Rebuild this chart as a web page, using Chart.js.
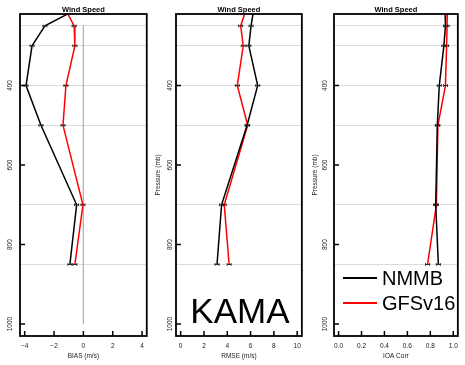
<!DOCTYPE html>
<html>
<head>
<meta charset="utf-8">
<script src="https://cdn.jsdelivr.net/npm/chart.js@4.4.1/dist/chart.umd.min.js"></script>
<style>
  html, body { margin: 0; padding: 0; background: #fff; }
  body { width: 465px; height: 365px; position: relative; overflow: hidden; }
  canvas { position: absolute; top: 0; }
</style>
</head>
<body>
<canvas id="bias"></canvas>
<canvas id="rmse"></canvas>
<canvas id="ioa"></canvas>
<script>
// niveles de presion (mb) de cada punto de los perfiles
const niveles = [200, 250, 300, 400, 500, 700, 850];
const nivelesGrid = [250, 300, 400, 500, 700, 850];
const presionTicks = [400, 600, 800, 1000];

const biasNMMB = [-0.05, -2.62, -3.5, -3.91, -2.89, -0.46, -0.92];
const biasGFS  = [-1.34, -0.63, -0.58, -1.19, -1.39, -0.03, -0.58];
const rmseNMMB = [6.32, 6.04, 5.85, 6.61, 5.7, 3.51, 3.12];
const rmseGFS  = [5.71, 5.15, 5.37, 4.86, 5.75, 3.74, 4.16];
const ioaNMMB  = [0.927, 0.932, 0.918, 0.878, 0.861, 0.847, 0.87];
const ioaGFS   = [0.95, 0.946, 0.942, 0.932, 0.866, 0.853, 0.776];

const biasTicks = [-4, -2, 0, 2, 4];
const rmseTicks = [0, 2, 4, 6, 8, 10];
const ioaTicks  = [0, 0.2, 0.4, 0.6, 0.8, 1];

const modelos = ['NMMB', 'GFSv16'];
const colores = ['#000000', '#ff0000'];
const estacion = 'KAMA';

const FUENTE = 'Liberation Sans, Arial, Helvetica, sans-serif';

const paneles = [
    { id: 'bias', izq: 20, der: 147, ancho: 20, xmin: -4.32, xmax: 4.32, ticks: biasTicks,
      fmt: v => (v < 0 ? '\u2212' + Math.abs(v) : String(v)), titulo: 'BIAS (m/s)',
      series: [biasNMMB, biasGFS], cero: true, labelX: 10.5, tituloY: null },
    { id: 'rmse', izq: 176, der: 304, ancho: 30, xmin: -0.4, xmax: 10.4, ticks: rmseTicks,
      fmt: v => String(v), titulo: 'RMSE (m/s)',
      series: [rmseNMMB, rmseGFS], texto: estacion, labelX: 170.5, tituloY: 8.6 },
    { id: 'ioa', izq: 334, der: 461, ancho: 30, xmin: -0.04, xmax: 1.04, ticks: ioaTicks,
      fmt: v => v.toFixed(1), titulo: 'IOA Corr',
      series: [ioaNMMB, ioaGFS], leyenda: true, labelX: 325.5, tituloY: 7.1 }
];

// marco, ticks hacia adentro, etiquetas de presion, marcas de cada nivel y textos extra
const marco = {
    id: 'marco',
    afterDraw(chart) {
        const p = chart.options.panel;
        const ctx = chart.ctx;
        const a = chart.chartArea;
        const sx = chart.scales.x, sy = chart.scales.y;
        const offset = p.izq - p.ancho;
        ctx.save();

        // marcas tipo barra de error en cada punto
        ctx.strokeStyle = '#222';
        ctx.lineWidth = 1;
        chart.data.datasets.forEach((ds, i) => {
            if (!ds.marcas) return;
            chart.getDatasetMeta(i).data.forEach(pt => {
                if (pt.y < a.top || pt.y > a.bottom) return;
                ctx.beginPath();
                ctx.moveTo(pt.x - 2, pt.y); ctx.lineTo(pt.x + 2, pt.y);
                ctx.moveTo(pt.x - 2, pt.y - 1.3); ctx.lineTo(pt.x - 2, pt.y + 1.3);
                ctx.moveTo(pt.x + 2, pt.y - 1.3); ctx.lineTo(pt.x + 2, pt.y + 1.3);
                ctx.stroke();
            });
        });

        ctx.strokeStyle = '#000';
        ctx.lineWidth = 1.8;
        ctx.strokeRect(a.left, a.top, a.right - a.left, a.bottom - a.top);

        ctx.lineWidth = 1.5;
        ctx.beginPath();
        p.ticks.forEach(v => {
            const x = sx.getPixelForValue(v);
            ctx.moveTo(x, a.bottom); ctx.lineTo(x, a.bottom - 5);
        });
        presionTicks.forEach(v => {
            const y = sy.getPixelForValue(v);
            ctx.moveTo(a.left, y); ctx.lineTo(a.left + 5, y);
        });
        ctx.stroke();

        ctx.fillStyle = '#222';
        ctx.font = '6.5px ' + FUENTE;
        ctx.textAlign = 'center';
        ctx.textBaseline = 'middle';
        presionTicks.forEach(v => {
            ctx.save();
            ctx.translate(p.labelX - offset, sy.getPixelForValue(v));
            ctx.rotate(-Math.PI / 2);
            ctx.fillText(String(v), 0, 0);
            ctx.restore();
        });

        if (p.texto) {
            ctx.fillStyle = '#000';
            ctx.font = '35px ' + FUENTE;
            ctx.textBaseline = 'alphabetic';
            ctx.fillText(p.texto, (a.left + a.right) / 2 + 1, a.bottom - 13);
        }

        if (p.leyenda) {
            ctx.font = '20px ' + FUENTE;
            ctx.textAlign = 'left';
            ctx.textBaseline = 'middle';
            modelos.forEach((m, i) => {
                const y = 278 + i * 25;
                ctx.strokeStyle = colores[i];
                ctx.lineWidth = 2;
                ctx.beginPath();
                ctx.moveTo(a.left + 9, y); ctx.lineTo(a.left + 43, y);
                ctx.stroke();
                ctx.fillStyle = '#000';
                ctx.fillText(m, a.left + 48, y + 1);
            });
        }
        ctx.restore();
    }
};

function crearPanel(p) {
    const canvas = document.getElementById(p.id);
    const w = p.der - p.izq + p.ancho + 3;
    canvas.width = w; canvas.height = 365;
    canvas.style.left = (p.izq - p.ancho) + 'px';
    canvas.style.width = w + 'px';
    canvas.style.height = '365px';

    const datasets = p.series.map((serie, i) => ({
        label: modelos[i],
        data: niveles.map((lev, k) => ({ x: serie[k], y: lev })),
        borderColor: colores[i],
        borderWidth: 1.5,
        pointRadius: 0,
        tension: 0,
        marcas: true
    }));
    if (p.cero) {
        datasets.push({
            label: 'cero',
            data: [{ x: 0, y: 250 }, { x: 0, y: 1000 }],
            borderColor: '#b4b4b4',
            borderWidth: 1,
            pointRadius: 0
        });
    }

    const fuente = { family: FUENTE, size: 6.5 };
    new Chart(canvas, {
        type: 'line',
        data: { datasets },
        options: {
            panel: p,
            responsive: false,
            animation: false,
            devicePixelRatio: 1,
            layout: { padding: { left: 0, right: 3, top: 0, bottom: 0 } },
            plugins: {
                legend: { display: false },
                tooltip: { enabled: false },
                title: {
                    display: true, text: 'Wind Speed', fullSize: false, color: '#000',
                    font: { family: FUENTE, size: 7.5, weight: 'bold', lineHeight: 1.2 },
                    padding: { top: 5, bottom: 0 }
                }
            },
            scales: {
                x: {
                    type: 'linear', min: p.xmin, max: p.xmax,
                    afterBuildTicks: s => { s.ticks = p.ticks.map(v => ({ value: v })); },
                    afterFit: s => { s.height = 29; },
                    grid: { display: false, drawTicks: false },
                    border: { display: false },
                    ticks: { font: fuente, color: '#222', padding: 6, autoSkip: false, maxRotation: 0, callback: v => p.fmt(v) },
                    title: { display: true, text: p.titulo, font: fuente, color: '#222', padding: { top: 0, bottom: 5 } }
                },
                y: {
                    type: 'linear', reverse: true, min: 220, max: 1030, position: 'left',
                    afterFit: s => { s.width = p.ancho; },
                    grid: { display: false, drawTicks: false },
                    border: { display: false },
                    ticks: { display: false },
                    title: {
                        display: p.tituloY !== null, text: 'Pressure (mb)', font: fuente, color: '#222',
                        padding: { top: p.tituloY || 0, bottom: 0 }
                    }
                },
                yg: {
                    type: 'linear', reverse: true, min: 220, max: 1030, position: 'left',
                    afterBuildTicks: s => { s.ticks = nivelesGrid.map(v => ({ value: v })); },
                    afterFit: s => { s.width = 0; },
                    grid: { color: '#dcdcdc', lineWidth: 1, drawTicks: false },
                    border: { display: false },
                    ticks: { display: false }
                }
            }
        },
        plugins: [marco]
    });
}

paneles.forEach(crearPanel);
</script>
</body>
</html>
